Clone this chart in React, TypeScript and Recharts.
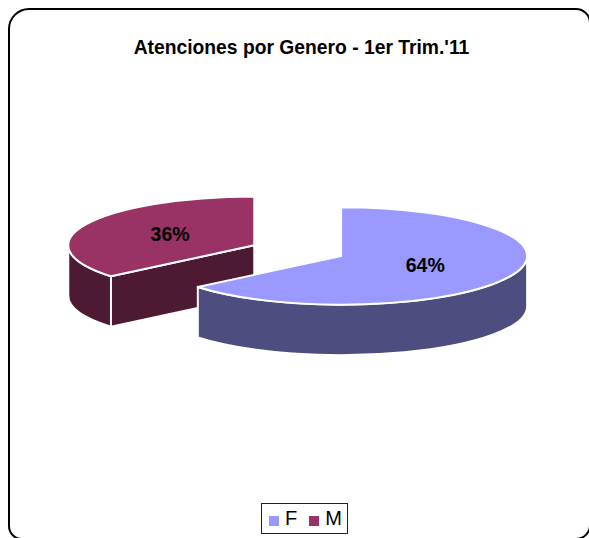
import { PieChart, Pie, Legend } from 'recharts';

const categories = ['M', 'F']; // M first so that F paints over it
const values = [36, 64];
const topColors = ['#993366', '#9999FF'];
const sideColors = ['#4D1933', '#4D4D7F'];

const title = "Atenciones por Genero - 1er Trim.'11";

const data = categories.map((name, i) => ({
  name,
  value: values[i],
  fill: topColors[i],
  side: sideColors[i],
}));

const RADIUS = 186;
const SQUASH = 0.262; // ellipse height / width
const DEPTH = 50.5;
const EXPLODE = 48;

const rad = (deg: number) => (deg * Math.PI) / 180;

// point on the ellipse for a Recharts angle
function pt(cx: number, cy: number, angle: number, r = RADIUS) {
  return {
    x: cx + r * Math.cos(rad(angle)),
    y: cy - r * SQUASH * Math.sin(rad(angle)),
  };
}

function exploded(cx: number, cy: number, mid: number) {
  return {
    x: cx + EXPLODE * Math.cos(rad(mid)),
    y: cy - EXPLODE * SQUASH * Math.sin(rad(mid)),
  };
}

function arc(cx: number, cy: number, from: number, to: number) {
  const end = pt(cx, cy, to);
  const large = from - to > 180 ? 1 : 0;
  return `A ${RADIUS} ${RADIUS * SQUASH} 0 ${large} 1 ${end.x} ${end.y}`;
}

function Slice3D(props: any) {
  const { cx, cy, startAngle, endAngle, fill, side } = props;
  const s = Math.max(startAngle, endAngle);
  const e = Math.min(startAngle, endAngle);
  const c = exploded(cx, cy, (s + e) / 2);
  const a = pt(c.x, c.y, s);

  // side wall of a cut edge, only where it faces the viewer
  const wall = (angle: number, visible: boolean) => {
    if (!visible) return null;
    const p = pt(c.x, c.y, angle);
    const d = `M ${c.x} ${c.y} L ${p.x} ${p.y} L ${p.x} ${p.y + DEPTH} L ${c.x} ${c.y + DEPTH} Z`;
    return <path d={d} fill={side} stroke="#fff" strokeWidth={2} />;
  };

  // outer rim, front half of the ellipse only
  const rims: any[] = [];
  [[-180, 0], [180, 360]].forEach(([lo, hi]) => {
    const from = Math.min(s, hi);
    const to = Math.max(e, lo);
    if (from <= to) return;
    const p = pt(c.x, c.y, from);
    const q = pt(c.x, c.y, to);
    const d = `M ${p.x} ${p.y} ${arc(c.x, c.y, from, to)} L ${q.x} ${q.y + DEPTH} ` +
      `${arc(c.x, c.y + DEPTH, to, from).replace(/ 1 ([^ ]+) ([^ ]+)$/, ' 0 $1 $2')} Z`;
    rims.push(<path key={lo} d={d} fill={side} stroke="#fff" strokeWidth={2} />);
  });

  return (
    <g>
      {wall(s, Math.cos(rad(s)) < -1e-6)}
      {wall(e, Math.cos(rad(e)) > 1e-6)}
      {rims}
      <path
        d={`M ${c.x} ${c.y} L ${a.x} ${a.y} ${arc(c.x, c.y, s, e)} Z`}
        fill={fill}
        stroke="#fff"
        strokeWidth={2}
        strokeLinejoin="round"
      />
    </g>
  );
}

function renderPercent(props: any) {
  const { cx, cy, midAngle, percent } = props;
  const c = exploded(cx, cy, midAngle);
  const p = pt(c.x, c.y, midAngle, RADIUS * 0.5);
  return (
    <text
      x={p.x}
      y={p.y - 1}
      textAnchor="middle"
      dominantBaseline="central"
      fontFamily="'Liberation Sans', Arial, sans-serif"
      fontWeight="bold"
      fontSize={19.5}
      fill="#000"
    >
      {`${Math.round(percent * 100)}%`}
    </text>
  );
}

export default function App() {
  return (
    <div style={{ position: 'absolute', left: 0, top: 0, width: 589, height: 538, overflow: 'hidden', background: '#fff' }}>
      <div
        style={{
          position: 'absolute',
          left: 8,
          top: 8,
          width: 579,
          height: 528,
          border: '2px solid #000',
          borderRadius: '21px 15px 15px 14px',
        }}
      />
      <PieChart width={589} height={538} margin={{ top: 0, right: 0, bottom: 0, left: 0 }} style={{ position: 'absolute', left: 0, top: 0 }}>
        <text
          x={301.5}
          y={54}
          textAnchor="middle"
          fontFamily="'Liberation Sans', Arial, sans-serif"
          fontWeight="bold"
          fontSize={19.3}
          fill="#000"
        >
          {title}
        </text>
        <Pie
          data={data}
          dataKey="value"
          nameKey="name"
          cx={297.7}
          cy={250.6}
          outerRadius={RADIUS}
          startAngle={219.6}
          endAngle={-140.4}
          shape={Slice3D}
          label={renderPercent}
          labelLine={false}
          isAnimationActive={false}
        />
        <Legend
          iconType="square"
          iconSize={10}
          align="left"
          itemSorter="value"
          formatter={(value: string) => (
            <span style={{ color: '#000', fontSize: 20, marginLeft: 2, marginRight: 2 }}>{value}</span>
          )}
          wrapperStyle={{
            left: 261,
            top: 503,
            bottom: 'auto',
            width: 87,
            height: 31,
            boxSizing: 'border-box',
            border: '1px solid #222',
            paddingLeft: 7,
            whiteSpace: 'nowrap',
            fontFamily: "'Liberation Sans', Arial, sans-serif",
            lineHeight: '29px',
          }}
        />
      </PieChart>
    </div>
  );
}
